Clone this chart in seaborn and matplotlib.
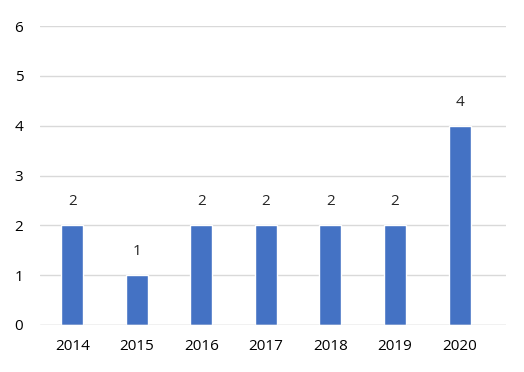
import matplotlib
matplotlib.use("Agg")
import matplotlib.pyplot as plt
import seaborn as sns
import pandas as pd

years = ["2014", "2015", "2016", "2017", "2018", "2019", "2020"]
values = [2, 1, 2, 2, 2, 2, 4]
yticks = [0, 1, 2, 3, 4, 5, 6]

sns.set_style("white")
plt.rcParams["font.family"] = ["Open Sans", "DejaVu Sans"]

df = pd.DataFrame({"year": years, "value": values})
fig = plt.figure(figsize=(5.24, 3.72), dpi=100)
ax = fig.add_axes([40/524, 47/372, 466/524, 299/372])
sns.barplot(data=df, x="year", y="value", color="#4472C4", width=0.34,
            saturation=1, ax=ax, zorder=3)
ax.set_ylim(0, 6)
ax.set_yticks(yticks)
ax.set_xlim(-0.5, len(years) - 0.28)
ax.grid(axis="y", color="#d9d9d9", linewidth=1, zorder=0)
for s in ax.spines.values():
    s.set_visible(False)
ax.axhline(0, color="#d9d9d9", linewidth=1, zorder=4)
ax.set_xlabel("")
ax.set_ylabel("")
ax.tick_params(axis="both", length=0, labelsize=11, colors="black")
ax.tick_params(axis="y", pad=12)
ax.tick_params(axis="x", pad=10)
for i, v in enumerate(values):
    ax.annotate(str(v), (i, v), xytext=(0, 11.5), textcoords="offset points",
                ha="center", va="bottom", fontsize=11)
fig.savefig("out.png", dpi=100)
